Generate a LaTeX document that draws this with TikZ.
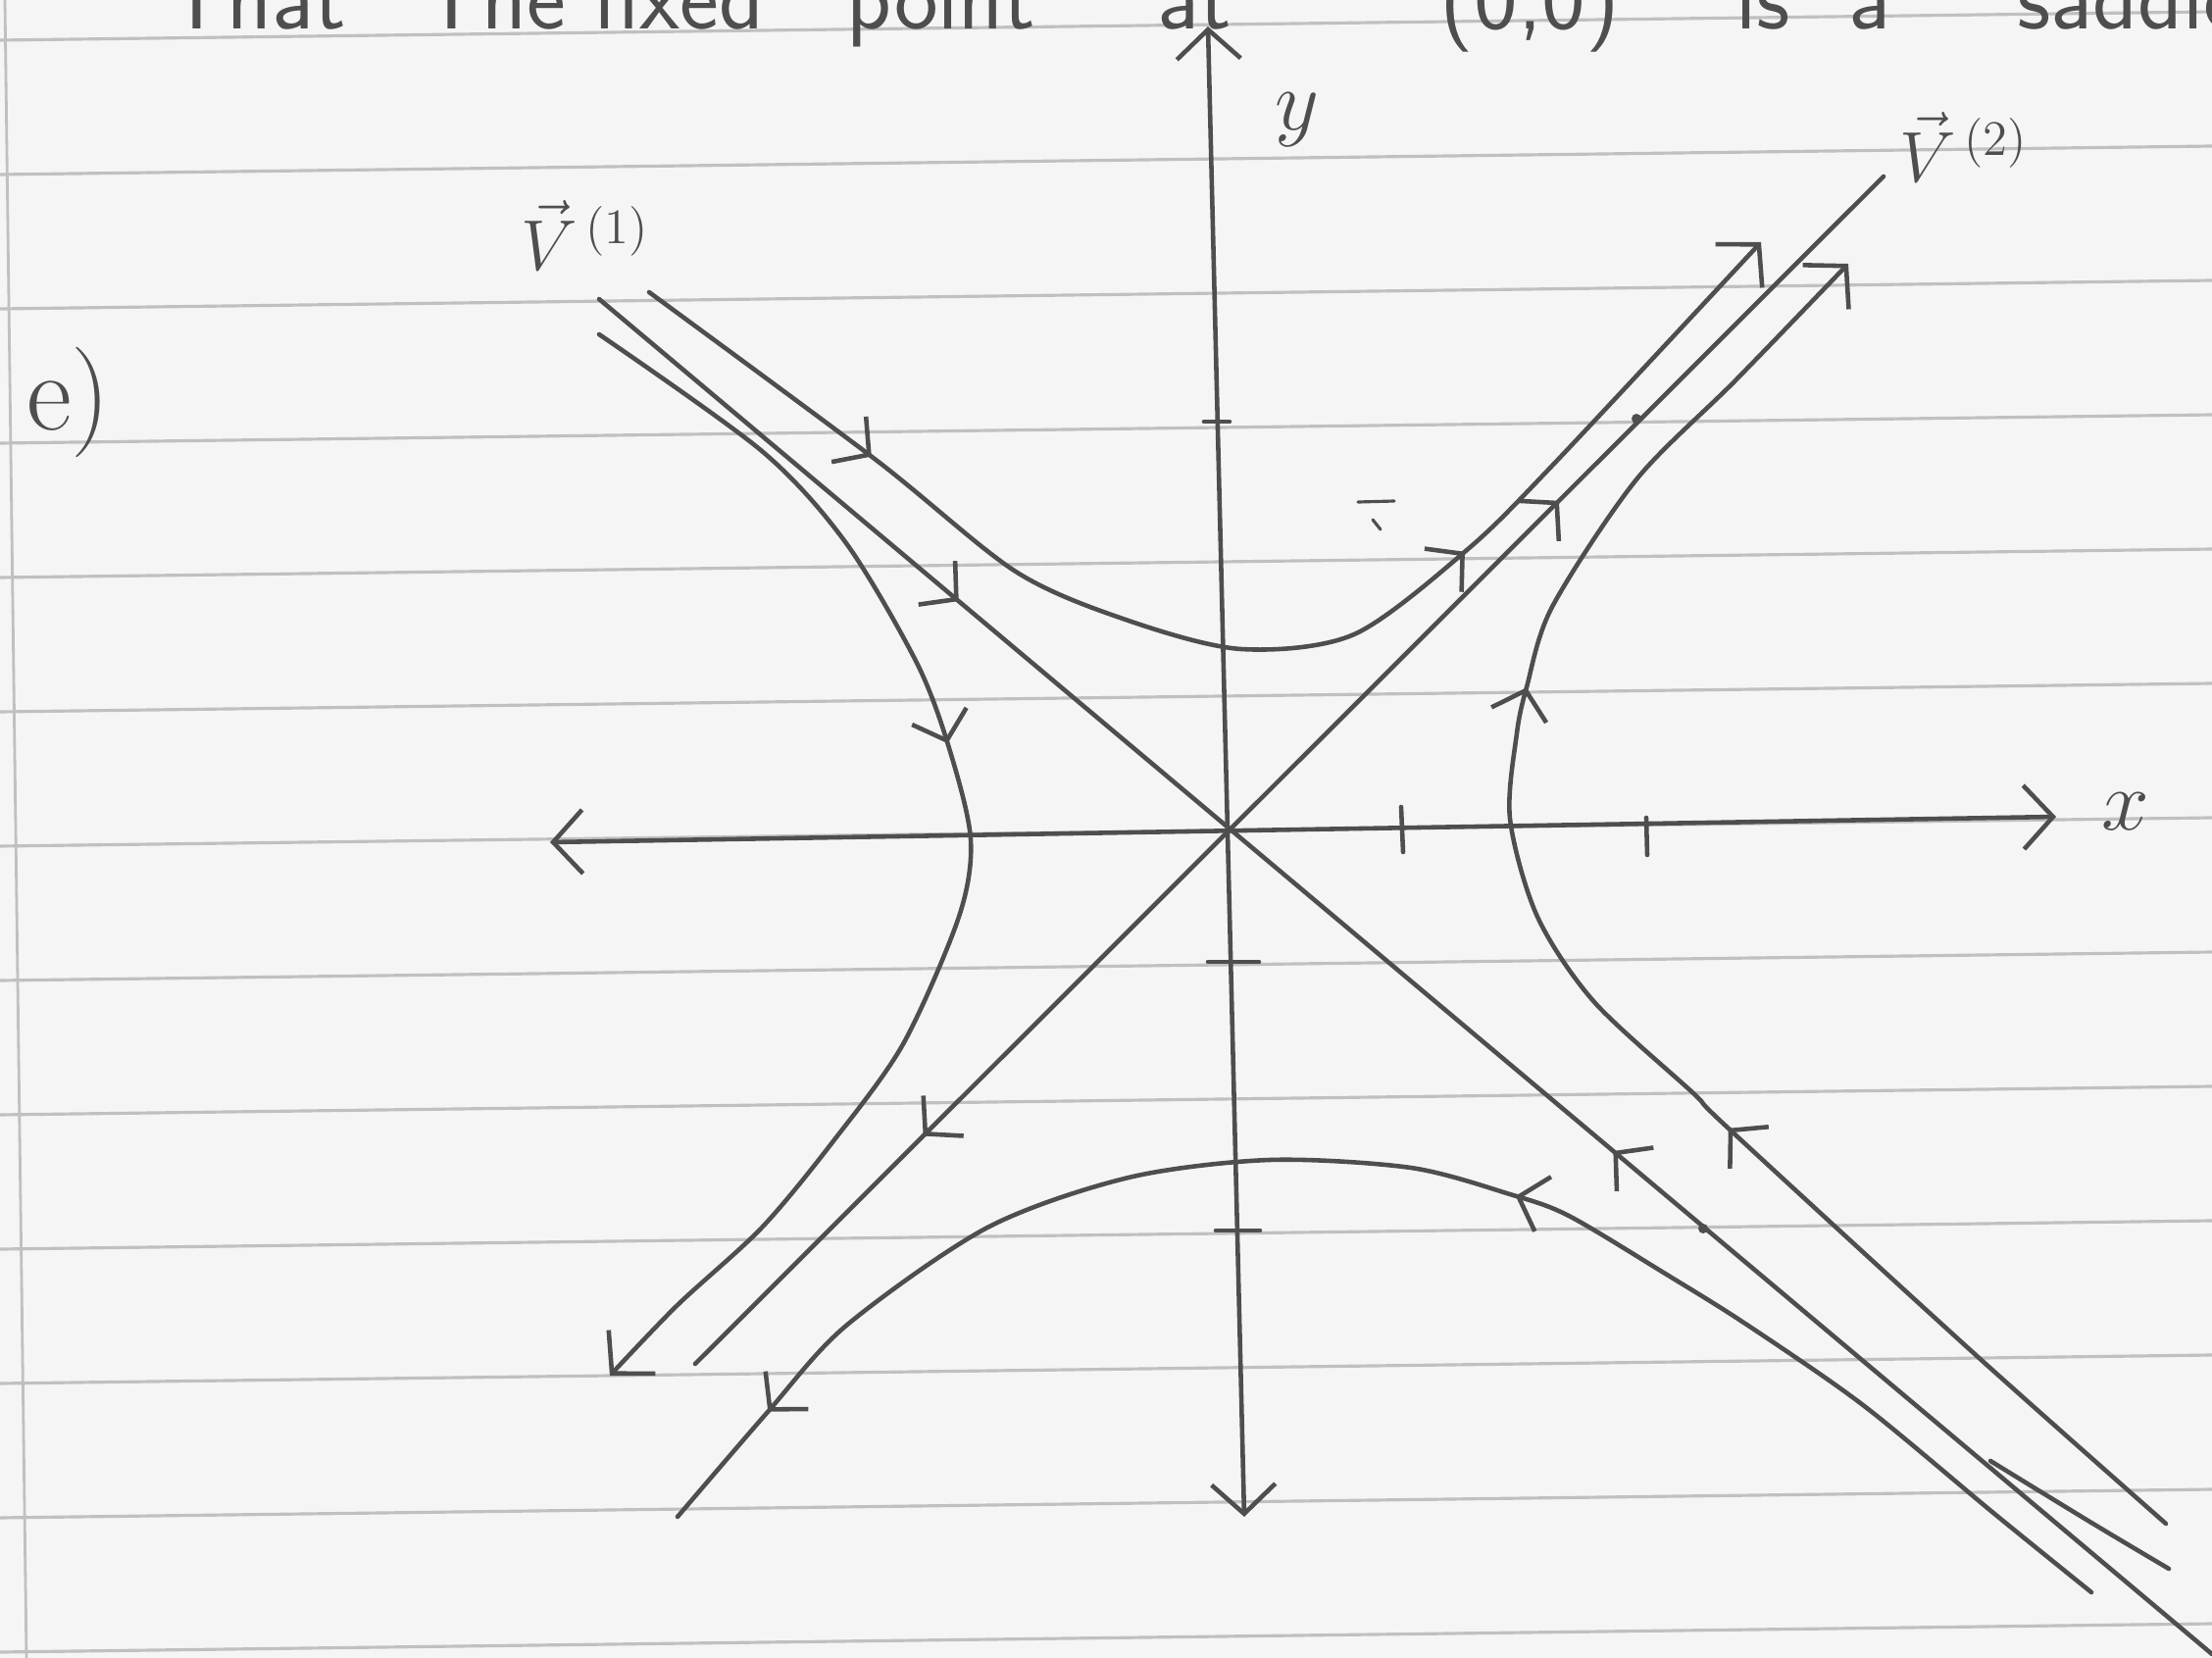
\documentclass[tikz,border=0pt]{standalone}
\usepackage{fontspec}
\usetikzlibrary{arrows.meta,decorations.markings}
\definecolor{pen}{RGB}{78,78,78}
\definecolor{paper}{RGB}{245,245,245}
\definecolor{rulecol}{RGB}{192,192,192}
\tikzset{
  pen/.style={draw=pen, line width=1.3pt, line cap=round, line join=round},
  tipend/.style={-{Straight Barb[length=3mm,width=6.5mm]}},
  tipboth/.style={{Straight Barb[length=3mm,width=6.5mm]}-{Straight Barb[length=3mm,width=6.5mm]}},
  ruleline/.style={draw=rulecol, line width=0.9pt},
  lab/.style={text=pen, inner sep=0pt},
  dotmark/.style={fill=pen, draw=none},
}
\newcommand{\hb}{\arrow{Straight Barb[length=2.6mm,width=5.8mm]}}
\newcommand{\hbr}{\arrowreversed{Straight Barb[length=2.6mm,width=5.8mm]}}
\begin{document}
\begin{tikzpicture}[x=0.01cm,y=-0.01cm]
\clip (0,0) rectangle (2256,1691);
\fill[paper] (0,0) rectangle (2256,1691);
% ruled paper
\foreach \k in {0,...,12}
  \draw[ruleline] (0,{41+137*\k}) -- (2256,{41+137*\k-29});
\draw[draw=rulecol, line width=0.8pt] (5,0) -- (27,1691);

% top handwritten line (cut off)
\begin{scope}[every node/.style={lab, anchor=base west, font=\sffamily\fontsize{27}{32}\selectfont}]
\node (w1) at (170,30) {That};
\node (w2) at (430,30) {The};
\node (w3) at (604,30) {fixed};
\node (w4) at (863,30) {point};
\node (w5) at (1180,30) {at};
\node (w6) at (1468,30) {(0,0)};
\node (w7) at (1770,30) {is};
\node (w8) at (1885,30) {a};
\node (w9) at (2057,30) {saddle};
\end{scope}

% key points
\coordinate (O) at (1255,846);
\coordinate (xl) at (561,859);
\coordinate (xr) at (2097,833);
\coordinate (yt) at (1232,27);
\coordinate (yb) at (1269,1547);
\coordinate (v1a) at (611,305);
\coordinate (v1b) at (2256,1687);
\coordinate (v2a) at (709,1391);
\coordinate (v2b) at (1921,180);

% axes
\draw[pen, tipboth] (xl) -- (xr);
\draw[pen, tipboth] (yb) -- (yt);
% ticks
\draw[pen] (1429,823) -- (1431,869);
\draw[pen] (1679,834) -- (1680,872);
\draw[pen] (1228,430) -- (1254,430);
\draw[pen] (1232,981) -- (1284,981);
\draw[pen] (1240,1255) -- (1285,1255);

% axis labels
\node[lab, font=\fontsize{30}{36}\selectfont] (xlab) at (2168,828) {$x$};
\node[lab, font=\fontsize{30}{36}\selectfont] (ylab) at (1323,122) {$y$};
\node[lab, font=\fontsize{32}{38}\selectfont] (elab) at (70,410) {e)};
\node[lab, font=\fontsize{22}{26}\selectfont] (v1lab) at (597,240) {$\vec{V}^{\,(1)}$};
\node[lab, font=\fontsize{22}{26}\selectfont] (v2lab) at (2003,150) {$\vec{V}^{\,(2)}$};

% eigenvector lines
\draw[pen, postaction={decorate}, decoration={markings,
   mark=at position 0.223 with {\hb},
   mark=at position 0.629 with {\hbr}}] (v1a) -- (v1b);
\draw[pen, postaction={decorate}, decoration={markings,
   mark=at position 0.192 with {\hbr},
   mark=at position 0.727 with {\hb}}] (v2a) -- (v2b);
\fill[dotmark] (1737,1253) circle (5);
\fill[dotmark] (1669,427) circle (5);

% upper trajectory
\draw[pen, tipend, postaction={decorate}, decoration={markings,
   mark=at position 0.20 with {\hb},
   mark=at position 0.69 with {\hb}}]
  plot[smooth] coordinates {(662,298) (892,468) (1036,583) (1151,633) (1266,662)
   (1381,647) (1496,561) (1583,475) (1796,247)};

% left trajectory
\draw[pen, tipend, postaction={decorate}, decoration={markings,
   mark=at position 0.42 with {\hb}}]
  plot[smooth] coordinates {(611,341) (777,460) (863,554) (935,676) (968,763)
   (990,856) (978,935) (921,1065) (849,1165) (777,1252) (691,1331) (622,1403)};

% right trajectory
\draw[pen, tipend, postaction={decorate}, decoration={markings,
   mark=at position 0.357 with {\hb},
   mark=at position 0.673 with {\hb}}]
  plot[smooth] coordinates {(2209,1554) (2014,1381) (1763,1151) (1727,1115)
   (1626,1022) (1568,935) (1540,835) (1547,748) (1557,701) (1583,619)
   (1669,489) (1770,388) (1885,269)};

% lower trajectory
\draw[pen, postaction={decorate}, decoration={markings,
   mark=at position 0.42 with {\hb},
   mark=at position 0.917 with {\hb}}]
  plot[smooth] coordinates {(2133,1624) (2033,1543) (1900,1433) (1780,1350)
   (1700,1300) (1600,1240) (1540,1218) (1439,1191) (1295,1183) (1151,1201)
   (1007,1252) (863,1352) (783,1440) (691,1547)};

% extra short stroke near bottom right
\draw[pen] plot[smooth] coordinates {(2030,1490) (2133,1553) (2212,1600)};

% stray mark
\draw[pen, line width=0.9pt] (1385,512) -- (1422,511);
\draw[pen, line width=0.9pt] (1400,530) -- (1408,540);
\end{tikzpicture}
\end{document}
